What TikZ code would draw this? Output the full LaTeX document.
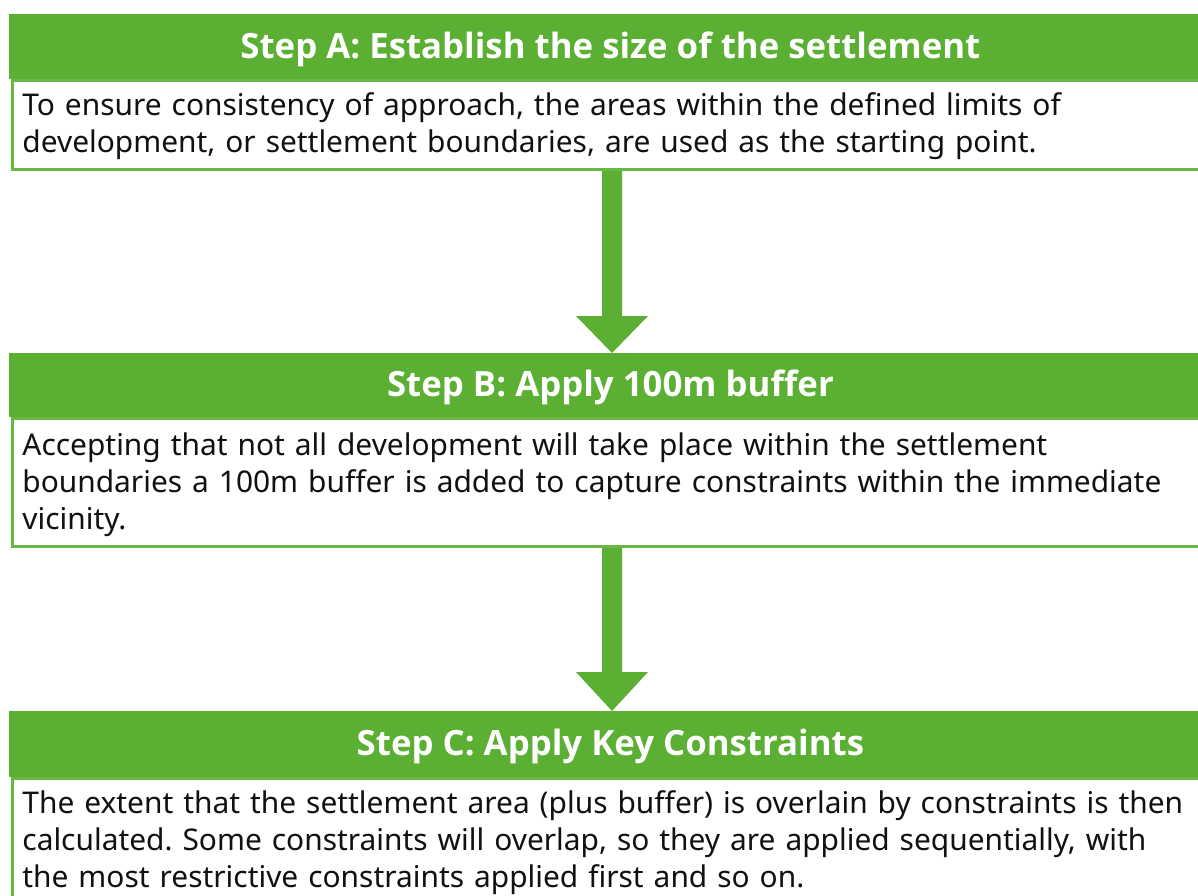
\documentclass[tikz,border=0pt]{standalone}
\usepackage{fontspec}
\setmainfont{Noto Sans}
\newfontfamily\titlefont{Open Sans}
\usetikzlibrary{calc}
\definecolor{hgreen}{RGB}{91,175,51}
\definecolor{bgreen}{RGB}{104,184,70}
\definecolor{ink}{RGB}{17,17,17}
\frenchspacing
\begin{document}
\begin{tikzpicture}[x=0.5pt,y=-0.5pt]
\tikzset{
  header/.style={fill=hgreen, draw=none, inner sep=0pt, anchor=north west,
    minimum width=601pt, text=white, text depth=0pt, text height=11.4pt,
    font=\titlefont\bfseries\fontsize{17.4}{20}\selectfont},
  bodybox/.style={draw=bgreen, line width=1.5pt, fill=white, inner sep=0pt,
    anchor=north west, minimum width=600pt},
  bodytext/.style={anchor=base west, inner sep=0pt, text width=590pt, align=left,
    text=ink, font=\fontsize{14.95}{18.5}\selectfont},
  flow/.style={fill=hgreen}
}
\useasboundingbox (0,0) rectangle (1198,895);
\clip (0,0) rectangle (1198,895);

% Step A
\node[bodybox, minimum height=44.5pt] (Abody) at (10.5,79) {};
\node[header, minimum height=32.5pt] (Ahead) at (9,14) {Step A: Establish the size of the settlement};
\node[bodytext] (Atext) at (22,115) {To ensure consistency of approach, the areas within the defined limits of\\development, or settlement boundaries, are used as the starting point.};

% Step B
\node[bodybox, minimum height=64pt] (Bbody) at (10.5,417) {};
\node[header, minimum height=32pt] (Bhead) at (9,353) {Step B: Apply 100m buffer};
\node[bodytext] (Btext) at (22,455) {Accepting that not all development will take place within the settlement\\boundaries a 100m buffer is added to capture constraints within the immediate\\vicinity.};

% Step C
\node[bodybox, minimum height=63pt] (Cbody) at (10.5,777) {};
\node[header, minimum height=33pt] (Chead) at (9,711) {Step C: Apply Key Constraints};
\node[bodytext] (Ctext) at (22,813) {The extent that the settlement area (plus buffer) is overlain by constraints is then\\calculated. Some constraints will overlap, so they are applied sequentially, with\\the most restrictive constraints applied first and so on.};

% Arrows
\fill[flow] let \p1=(Abody.south), \p2=(Bhead.north) in
  (\x1-5pt,\y1) -- (\x1+5pt,\y1) -- (\x1+5pt,\y2+18.5pt) -- (\x1+18pt,\y2+18.5pt)
  -- (\x1,\y2) -- (\x1-18pt,\y2+18.5pt) -- (\x1-5pt,\y2+18.5pt) -- cycle;
\fill[flow] let \p1=(Bbody.south), \p2=(Chead.north) in
  (\x1-5pt,\y1) -- (\x1+5pt,\y1) -- (\x1+5pt,\y2+19.5pt) -- (\x1+18pt,\y2+19.5pt)
  -- (\x1,\y2) -- (\x1-18pt,\y2+19.5pt) -- (\x1-5pt,\y2+19.5pt) -- cycle;
\end{tikzpicture}
\end{document}
